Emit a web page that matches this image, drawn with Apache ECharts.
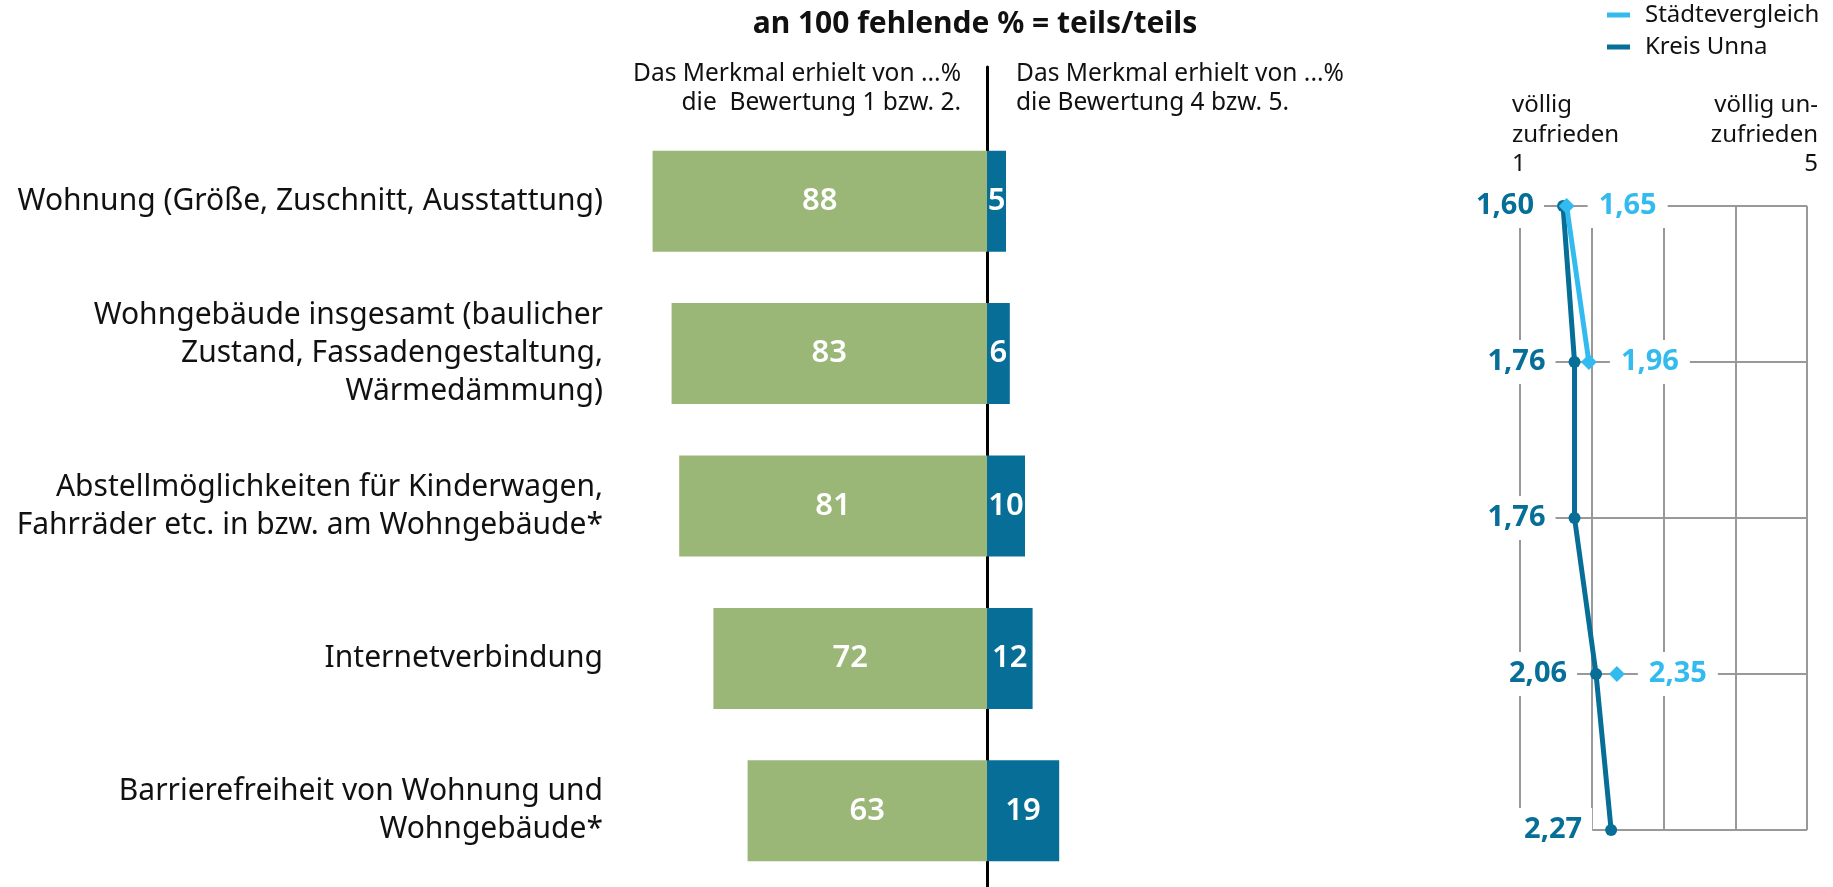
<!DOCTYPE html>
<html>
<head>
<meta charset="utf-8">
<script src="https://cdn.jsdelivr.net/npm/echarts@6/dist/echarts.min.js"></script>
<style>
html,body{margin:0;padding:0;background:#fff;}
#c{width:1833px;height:887px;}
</style>
</head>
<body>
<div id="c"></div>
<script>
// ---- data ----
var categories = [
  'Wohnung (Größe, Zuschnitt, Ausstattung)',
  'Wohngebäude insgesamt (baulicher\nZustand, Fassadengestaltung,\nWärmedämmung)',
  'Abstellmöglichkeiten für Kinderwagen,\nFahrräder etc. in bzw. am Wohngebäude*',
  'Internetverbindung',
  'Barrierefreiheit von Wohnung und\nWohngebäude*'
];
var rating12 = [88, 83, 81, 72, 63];   // % Bewertung 1 bzw. 2
var rating45 = [5, 6, 10, 12, 19];     // % Bewertung 4 bzw. 5
var kreisUnna = [1.60, 1.76, 1.76, 2.06, 2.27];
var staedtevergleich = [1.65, 1.96, '-', 2.35, '-'];
var scaleTicks = [1, 2, 3, 4, 5];

var FONT = 'Noto Sans';
var GREEN = '#9bb777';
var BLUE = '#066e97';
var LIGHT = '#33bbef';
var GRID = '#999999';

var chart = echarts.init(document.getElementById('c'), null, {renderer: 'canvas'});

function fmt(v) { return Number(v).toFixed(2).replace('.', ','); }

var option = {
  backgroundColor: '#ffffff',
  textStyle: {fontFamily: FONT},
  animation: false,
  legend: {
    orient: 'vertical',
    left: 1607,
    top: 1,
    padding: 0,
    itemWidth: 23,
    itemHeight: 5,
    itemGap: 4,
    icon: 'rect',
    data: ['Städtevergleich', 'Kreis Unna'],
    textStyle: {fontFamily: FONT, fontSize: 24, color: '#111', lineHeight: 28, padding: [0, 0, 0, 10]}
  },
  graphic: [
    {type: 'text', x: 975, y: 24, style: {text: 'an 100 fehlende % = teils/teils', font: 'bold 30px "Noto Sans"', fill: '#111', textAlign: 'center', textVerticalAlign: 'middle'}},
    {type: 'text', x: 961, y: 89, style: {text: 'Das Merkmal erhielt von ...%\ndie  Bewertung 1 bzw. 2.', font: '24.5px "Noto Sans"', lineHeight: 29, fill: '#111', textAlign: 'right', textVerticalAlign: 'middle'}},
    {type: 'text', x: 1016, y: 89, style: {text: 'Das Merkmal erhielt von ...%\ndie Bewertung 4 bzw. 5.', font: '24.5px "Noto Sans"', lineHeight: 29, fill: '#111', textAlign: 'left', textVerticalAlign: 'middle'}},
    {type: 'text', x: 1512, y: 135, style: {text: 'völlig\nzufrieden\n' + scaleTicks[0], font: '24px "Noto Sans"', lineHeight: 29.5, fill: '#111', textAlign: 'left', textVerticalAlign: 'middle'}},
    {type: 'text', x: 1818, y: 135, style: {text: 'völlig un-\nzufrieden\n' + scaleTicks[4], font: '24px "Noto Sans"', lineHeight: 29.5, fill: '#111', textAlign: 'right', textVerticalAlign: 'middle'}}
  ],
  grid: [
    {left: 607, right: 466, top: 125, bottom: -3, containLabel: false},
    {left: 607, right: 466, top: 67, bottom: 0, containLabel: false, z: 10},
    {left: 1520, right: 26, top: 206, bottom: 57, containLabel: false}
  ],
  xAxis: [
    {gridIndex: 0, type: 'value', min: -100, max: 100, show: false},
    {gridIndex: 1, type: 'value', min: -100, max: 100, axisLine: {show: false}, axisTick: {show: false}, axisLabel: {show: false}, splitLine: {show: false}},
    {gridIndex: 2, type: 'value', min: 1, max: 5, interval: 1,
      axisLine: {show: false}, axisTick: {show: false}, axisLabel: {show: false},
      splitLine: {show: true, lineStyle: {color: GRID, width: 2}}}
  ],
  yAxis: [
    {gridIndex: 0, type: 'category', data: categories, inverse: true,
      axisLine: {show: false, onZero: false}, axisTick: {show: false}, splitLine: {show: false},
      axisLabel: {margin: 4, fontFamily: FONT, fontSize: 30, lineHeight: 38, color: '#111', align: 'right',
        padding: [14, 0, 0, 0], backgroundColor: 'rgba(255,255,255,0.01)'}},
    {gridIndex: 1, type: 'value', min: 0, max: 1,
      axisLine: {show: true, onZero: true, lineStyle: {color: '#000', width: 3}},
      axisTick: {show: false}, axisLabel: {show: false}, splitLine: {show: false}},
    {gridIndex: 2, type: 'category', data: categories, inverse: true, boundaryGap: false,
      axisLine: {show: false}, axisTick: {show: false}, axisLabel: {show: false},
      splitLine: {show: true, lineStyle: {color: GRID, width: 2}}}
  ],
  series: [
    {
      name: 'Bewertung 1 bzw. 2', type: 'bar', xAxisIndex: 0, yAxisIndex: 0, stack: 'b',
      barWidth: 101,
      data: rating12.map(function (v) { return -v; }),
      itemStyle: {color: GREEN},
      label: {show: true, position: 'inside', color: '#fff', fontFamily: FONT, fontSize: 31, fontWeight: 600,
        formatter: function (p) { return Math.abs(p.value); }}
    },
    {
      name: 'Bewertung 4 bzw. 5', type: 'bar', xAxisIndex: 0, yAxisIndex: 0, stack: 'b',
      barWidth: 101,
      data: rating45,
      itemStyle: {color: BLUE},
      label: {show: true, position: 'inside', color: '#fff', fontFamily: FONT, fontSize: 31, fontWeight: 600,
        formatter: function (p) { return p.value; }}
    },
    {
      name: 'Kreis Unna', type: 'line', xAxisIndex: 2, yAxisIndex: 2,
      data: kreisUnna,
      color: BLUE,
      symbol: 'circle', symbolSize: 12,
      lineStyle: {color: BLUE, width: 5},
      itemStyle: {color: BLUE},
      label: {show: true, position: 'left', distance: 13, color: BLUE, fontFamily: FONT, fontSize: 29, fontWeight: 'bold',
        backgroundColor: '#fff', padding: [6, 10], lineHeight: 32,
        formatter: function (p) { return fmt(p.value); }},
      z: 3
    },
    {
      name: 'Städtevergleich', type: 'line', xAxisIndex: 2, yAxisIndex: 2,
      data: staedtevergleich,
      color: LIGHT,
      connectNulls: false,
      symbol: 'diamond', symbolSize: 16,
      lineStyle: {color: LIGHT, width: 5},
      itemStyle: {color: LIGHT},
      label: {show: true, position: 'right', distance: 13, color: LIGHT, fontFamily: FONT, fontSize: 29, fontWeight: 'bold',
        backgroundColor: '#fff', padding: [6, 11], lineHeight: 32,
        formatter: function (p) { return fmt(p.value); }},
      z: 4
    }
  ]
};
chart.setOption(option);
</script>
</body>
</html>
